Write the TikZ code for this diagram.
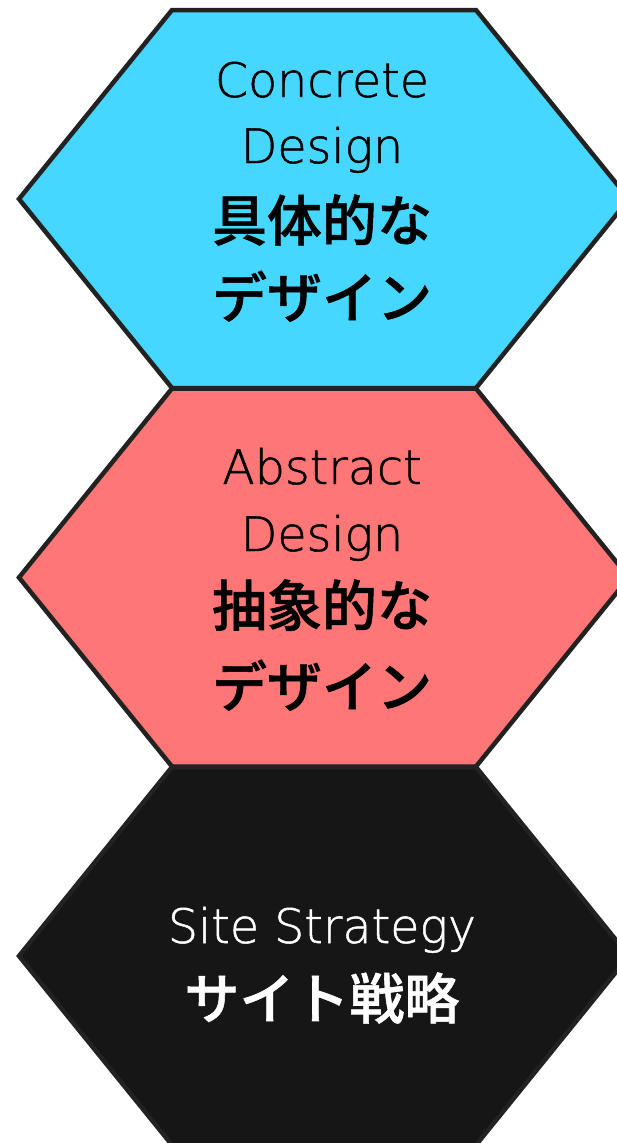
\documentclass[tikz,border=0pt]{standalone}
\usepackage{fontspec}
\newfontfamily\enlight{DejaVu Sans ExtraLight}[FakeBold=1]
\newfontfamily\jpfont{Noto Sans CJK JP Medium}[FakeBold=1]

\definecolor{concretecol}{HTML}{45D7FF}
\definecolor{abstractcol}{HTML}{FF7676}
\definecolor{strategycol}{HTML}{161616}
\definecolor{edgecol}{HTML}{222222}

\tikzset{
  hexface/.style={draw=edgecol, line width=4.5pt, line join=miter},
  entext/.style={anchor=base, inner sep=0pt, font=\enlight\fontsize{47.5}{47.5}\selectfont},
  jptext/.style={anchor=base, inner sep=0pt, font=\jpfont\fontsize{55}{55}\selectfont},
}

\begin{document}
\begin{tikzpicture}[x=1pt,y=-1pt]
\useasboundingbox (0,0) rectangle (616,1143);
% concrete design
\begin{scope}[shift={(0,0)}]
\draw[hexface, fill=concretecol] (172,10) -- (476,10) -- (629,199) -- (476,388) -- (172,388) -- (19,199) -- cycle;
\node[entext] (concreteEn) at (322,97) {Concrete};
\node[entext] (concreteDesign) at (322,163) {Design};
\node[jptext] (concreteJa) at (322,241) {具体的な};
\node[jptext] (concreteKana) at (322,318) {デザイン};
\end{scope}
% abstract design
\begin{scope}[shift={(0,378.5)}]
\draw[hexface, fill=abstractcol] (172,10) -- (476,10) -- (629,199) -- (476,388) -- (172,388) -- (19,199) -- cycle;
\node[entext] (abstractEn) at (322,105.5) {Abstract};
\node[entext] (abstractDesign) at (322,172.5) {Design};
\node[jptext] (abstractJa) at (322,247.5) {抽象的な};
\node[jptext] (abstractKana) at (322,328.5) {デザイン};
\end{scope}
% site strategy
\begin{scope}[shift={(0,757)}]
\draw[hexface, fill=strategycol] (172,10) -- (476,10) -- (629,199) -- (476,388) -- (172,388) -- (19,199) -- cycle;
\node[entext, text=white] (strategyEn) at (322,186) {Site Strategy};
\node[jptext, text=white] (strategyJa) at (322,262) {サイト戦略};
\end{scope}
\end{tikzpicture}
\end{document}
